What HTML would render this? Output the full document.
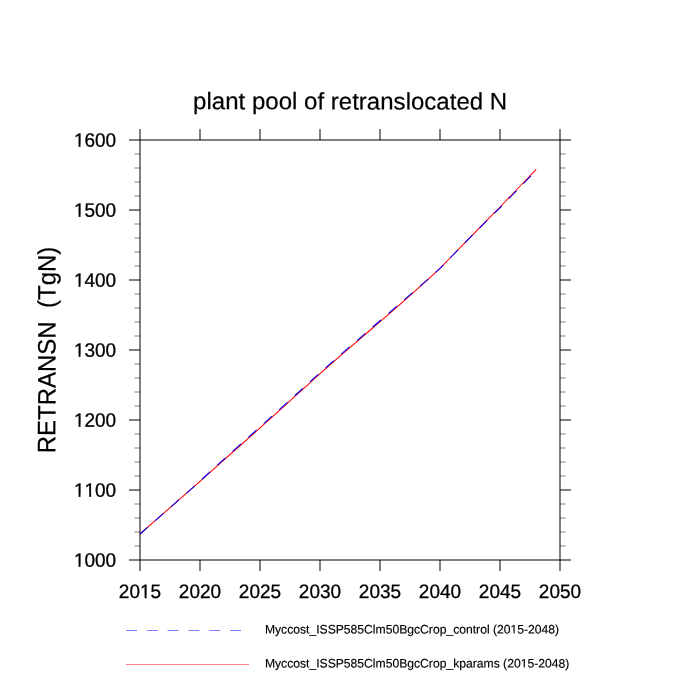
<!DOCTYPE html>
<html lang="en">
<head>
<meta charset="utf-8">
<title>plant pool of retranslocated N</title>
<style>
html,body{margin:0;padding:0;background:#fff;}
body{width:700px;height:700px;overflow:hidden;}
svg{display:block;}
text{font-family:"Liberation Sans",Arial,Helvetica,sans-serif;fill:#000;text-rendering:geometricPrecision;font-kerning:none;}
</style>
</head>
<body>
<svg width="700" height="700" viewBox="0 0 700 700">
<rect x="0" y="0" width="700" height="700" fill="#ffffff"/>
<text transform="matrix(1.002,0.0006,0,1.0,350.15,109.4)" font-size="24" text-anchor="middle" stroke="#000" stroke-width="0.2">plant pool of retranslocated N</text>
<text transform="translate(55.45,350) rotate(-89.95) scale(1,1.05)" font-size="24" text-anchor="middle" stroke="#000" stroke-width="0.2" xml:space="preserve">RETRANSN  (TgN)</text>
<polyline points="140.0,534.00 152.0,523.46 164.0,512.92 176.0,502.38 188.0,491.84 200.0,481.30 212.0,470.62 224.0,459.94 236.0,449.26 248.0,438.58 260.0,427.90 272.0,417.19 284.0,406.32 296.0,395.44 308.0,384.57 320.0,373.70 332.0,363.06 344.0,352.66 356.0,342.34 368.0,332.02 380.0,321.70 392.0,311.38 404.0,300.90 416.0,290.10 428.0,279.46 440.0,268.30 452.0,256.00 464.0,243.70 476.0,231.43 488.0,219.21 500.0,207.00 512.0,194.50 524.0,182.01 536.2,169.30" fill="none" stroke="#ff0000" stroke-width="1.05"/>
<polyline points="140.0,534.00 152.0,523.46 164.0,512.92 176.0,502.38 188.0,491.84 200.0,481.10 212.0,469.94 224.0,459.05 236.0,448.31 248.0,437.63 260.0,426.95 272.0,416.24 284.0,405.37 296.0,394.49 308.0,383.62 320.0,372.75 332.0,362.11 344.0,351.71 356.0,341.39 368.0,331.07 380.0,320.75 392.0,310.43 404.0,299.95 416.0,289.56 428.0,279.46 440.0,268.30 452.0,256.00 464.0,243.70 476.0,231.43 488.0,219.53 500.0,207.80 512.0,195.50 524.0,183.01 536.2,170.30" fill="none" stroke="#0000ff" stroke-width="1.05" stroke-dasharray="11 9.8" stroke-dashoffset="0.5"/>
<g stroke="#000" stroke-width="1" fill="none">
<rect x="140" y="140" width="420" height="420"/>
<path d="M140,560V571M140,140V129M200,560V571M200,140V129M260,560V571M260,140V129M320,560V571M320,140V129M380,560V571M380,140V129M440,560V571M440,140V129M500,560V571M500,140V129M560,560V571M560,140V129"/>
<path d="M140,560H129M560,560H571M140,490H129M560,490H571M140,420H129M560,420H571M140,350H129M560,350H571M140,280H129M560,280H571M140,210H129M560,210H571M140,140H129M560,140H571"/>
</g>
<path d="M140,546H134.5M560,546H565.5M140,532H134.5M560,532H565.5M140,518H134.5M560,518H565.5M140,504H134.5M560,504H565.5M140,476H134.5M560,476H565.5M140,462H134.5M560,462H565.5M140,448H134.5M560,448H565.5M140,434H134.5M560,434H565.5M140,406H134.5M560,406H565.5M140,392H134.5M560,392H565.5M140,378H134.5M560,378H565.5M140,364H134.5M560,364H565.5M140,336H134.5M560,336H565.5M140,322H134.5M560,322H565.5M140,308H134.5M560,308H565.5M140,294H134.5M560,294H565.5M140,266H134.5M560,266H565.5M140,252H134.5M560,252H565.5M140,238H134.5M560,238H565.5M140,224H134.5M560,224H565.5M140,196H134.5M560,196H565.5M140,182H134.5M560,182H565.5M140,168H134.5M560,168H565.5M140,154H134.5M560,154H565.5" stroke="#000" stroke-width="0.5" fill="none"/>
<g font-size="19.0" text-anchor="end" stroke="#000" stroke-width="0.3">
<text transform="matrix(1,0.0006,0,1.022,116.2,566.8)">1000</text>
<text transform="matrix(1,0.0006,0,1.022,116.2,496.8)">1100</text>
<text transform="matrix(1,0.0006,0,1.022,116.2,426.8)">1200</text>
<text transform="matrix(1,0.0006,0,1.022,116.2,356.8)">1300</text>
<text transform="matrix(1,0.0006,0,1.022,116.2,286.8)">1400</text>
<text transform="matrix(1,0.0006,0,1.022,116.2,216.8)">1500</text>
<text transform="matrix(1,0.0006,0,1.022,116.2,146.8)">1600</text>
</g>
<g font-size="19.0" text-anchor="middle" stroke="#000" stroke-width="0.3">
<text transform="matrix(1,0.0006,0,1.022,140,598.0)">2015</text>
<text transform="matrix(1,0.0006,0,1.022,200,598.0)">2020</text>
<text transform="matrix(1,0.0006,0,1.022,260,598.0)">2025</text>
<text transform="matrix(1,0.0006,0,1.022,320,598.0)">2030</text>
<text transform="matrix(1,0.0006,0,1.022,380,598.0)">2035</text>
<text transform="matrix(1,0.0006,0,1.022,440,598.0)">2040</text>
<text transform="matrix(1,0.0006,0,1.022,500,598.0)">2045</text>
<text transform="matrix(1,0.0006,0,1.022,560,598.0)">2050</text>
</g>
<g fill="#ffffff" stroke="none">
<rect x="74.28" y="564.60" width="4.28" height="3.65"/><rect x="80.54" y="564.60" width="4.13" height="3.65"/>
<rect x="74.28" y="494.60" width="4.28" height="3.65"/><rect x="80.54" y="494.60" width="4.13" height="3.65"/>
<rect x="74.28" y="424.60" width="4.28" height="3.65"/><rect x="80.54" y="424.60" width="4.13" height="3.65"/>
<rect x="74.28" y="354.60" width="4.28" height="3.65"/><rect x="80.54" y="354.60" width="4.13" height="3.65"/>
<rect x="74.28" y="284.60" width="4.28" height="3.65"/><rect x="80.54" y="284.60" width="4.13" height="3.65"/>
<rect x="74.28" y="214.60" width="4.28" height="3.65"/><rect x="80.54" y="214.60" width="4.13" height="3.65"/>
<rect x="74.28" y="144.60" width="4.28" height="3.65"/><rect x="80.54" y="144.60" width="4.13" height="3.65"/>
<rect x="84.85" y="494.60" width="4.28" height="3.65"/><rect x="91.11" y="494.60" width="4.13" height="3.65"/>
<rect x="140.35" y="595.80" width="4.28" height="3.65"/><rect x="146.61" y="595.80" width="4.13" height="3.65"/>
</g>
<path d="M126,630.5H249" stroke="#0000ff" stroke-width="0.5" stroke-dasharray="11 9.8" fill="none"/>
<path d="M126,664.5H249" stroke="#ff0000" stroke-width="0.5" fill="none"/>
<g font-size="12.15" stroke="#000" stroke-width="0.16">
<text transform="matrix(1,0.0006,0,1.02,264.9,633.45)">Myccost_ISSP585Clm50BgcCrop_control (2015-2048)</text>
<text transform="matrix(1,0.0006,0,1.02,264.9,667.45)">Myccost_ISSP585Clm50BgcCrop_kparams (2015-2048)</text>
</g>
<g fill="#ffffff" stroke="none">
<rect x="510.69" y="631.84" width="2.80" height="2.99"/><rect x="514.72" y="631.84" width="2.70" height="2.99"/>
<rect x="520.81" y="665.84" width="2.80" height="2.99"/><rect x="524.84" y="665.84" width="2.70" height="2.99"/>
</g>
</svg>
</body>
</html>
